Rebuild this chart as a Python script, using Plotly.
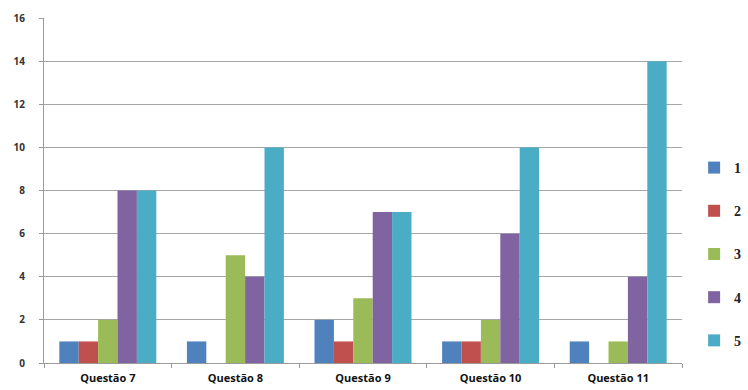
import plotly.graph_objects as go

categories = ["Questão 7", "Questão 8", "Questão 9", "Questão 10", "Questão 11"]
series_names = ["1", "2", "3", "4", "5"]
s1 = [1, 1, 2, 1, 1]
s2 = [1, 0, 1, 1, 0]
s3 = [2, 5, 3, 2, 1]
s4 = [8, 4, 7, 6, 4]
s5 = [8, 10, 7, 10, 14]
series_values = [s1, s2, s3, s4, s5]
colors = ["#4F81BD", "#C0504D", "#9BBB59", "#8064A2", "#4BACC6"]
y_ticks = [0, 2, 4, 6, 8, 10, 12, 14, 16]

fig = go.Figure()
for i, (name, vals) in enumerate(zip(series_names, series_values)):
    fig.add_trace(go.Bar(
        x=categories, y=vals, name=name, marker_color=colors[i],
        marker_line_width=0, legendgroup=name,
    ))

fig.update_layout(
    width=748, height=390,
    margin=dict(l=44, r=66, t=18, b=27, autoexpand=False),
    plot_bgcolor="white", paper_bgcolor="white",
    barmode="group", bargap=0.24, bargroupgap=0,
    showlegend=True,
    legend=dict(
        x=1.019, xanchor="left", y=0.316, yanchor="middle",
        traceorder="grouped", tracegroupgap=22,
        font=dict(family="Liberation Serif", size=14, color="#222222", weight="bold"),
        itemwidth=30,
    ),
    font=dict(family="Open Sans", color="#333333"),
)
fig.update_xaxes(
    automargin=False,
    showline=True, linecolor="#9a9a9a", linewidth=1,
    ticks="outside", tickson="boundaries", ticklen=4, tickcolor="#9a9a9a",
    tickfont=dict(family="Open Sans", size=11, color="#111111", weight="bold"),
    ticklabelstandoff=5,
)
fig.update_yaxes(
    automargin=False,
    range=[0, 16], tickvals=y_ticks,
    showline=True, linecolor="#9a9a9a", linewidth=1,
    showgrid=True, gridcolor="#a6a6a6", gridwidth=1,
    ticks="outside", ticklen=4, tickcolor="#9a9a9a",
    tickfont=dict(family="Open Sans", size=10, color="#333333", weight="bold"),
    ticklabelstandoff=12,
    zeroline=False,
)

fig.write_html("out.html")
